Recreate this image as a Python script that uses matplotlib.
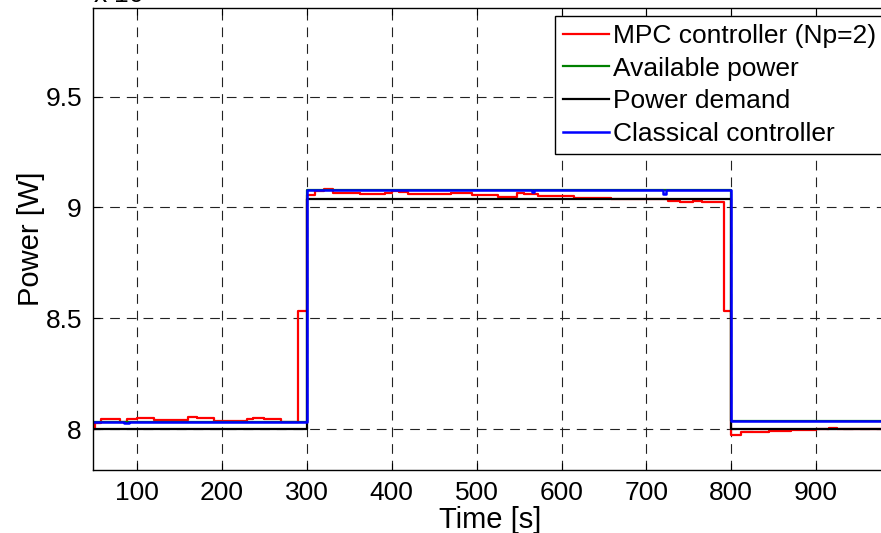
import matplotlib
matplotlib.use("Agg")
import matplotlib.pyplot as plt

plt.rcParams['font.family'] = ['Liberation Sans', 'DejaVu Sans']
plt.rcParams['lines.scale_dashes'] = False

# power values in units of 1e4 W, step changes at the listed times [s]
mpc_t = [48, 50, 58, 80, 88, 100, 120, 160, 170, 190, 230, 237, 250, 270, 290,
         300, 310, 320, 331, 362, 392, 400, 409, 419, 470, 494, 525, 547, 556,
         572, 615, 658, 725, 740, 755, 765, 791, 800, 812, 845, 870, 900, 915,
         925, 1000]
mpc_p = [8.0, 8.028, 8.045, 8.03, 8.045, 8.051, 8.04, 8.055, 8.048, 8.037,
         8.045, 8.051, 8.045, 8.033, 8.533, 9.054, 9.073, 9.084, 9.066, 9.061,
         9.066, 9.076, 9.068, 9.059, 9.066, 9.055, 9.046, 9.066, 9.059, 9.05,
         9.044, 9.038, 9.028, 9.024, 9.027, 9.024, 8.533, 7.975, 7.985, 7.99,
         7.995, 8.0, 8.003, 8.0, 8.0]

# available power is hidden under the classical controller trace
avail_t = [48, 300, 800, 1000]
avail_p = [8.033, 9.077, 8.035, 8.035]

demand_t = [48, 300, 800, 1000]
demand_p = [8.0, 9.036, 8.0, 8.0]

classic_t = [48, 85, 90, 300, 565, 568, 719, 723, 800, 1000]
classic_p = [8.033, 8.028, 8.033, 9.077, 9.068, 9.077, 9.059, 9.077, 8.035, 8.035]

xticks = [100, 200, 300, 400, 500, 600, 700, 800, 900]
yticks = [8, 8.5, 9, 9.5]
ytick_labels = ['8', '8.5', '9', '9.5']

fig = plt.figure(figsize=(8.81, 5.33), dpi=100)
ax_w = 901 - 93
ax_h = 470 - 8
ax = fig.add_axes([93 / 881, 1 - 470 / 533, ax_w / 881, ax_h / 533])

ax.plot(mpc_t, mpc_p, color='#ff0000', lw=1.6, drawstyle='steps-post', label='MPC controller (Np=2)')
ax.plot(avail_t, avail_p, color='#008000', lw=1.6, drawstyle='steps-post', label='Available power')
ax.plot(demand_t, demand_p, color='black', lw=1.6, drawstyle='steps-post', label='Power demand')
ax.plot(classic_t, classic_p, color='#0000ff', lw=1.8, drawstyle='steps-post', label='Classical controller')

ax.set_xlim(48, 1000)
ax.set_ylim(7.815, 9.9)
ax.set_xticks(xticks)
ax.set_yticks(yticks)
ax.set_yticklabels(ytick_labels)
ax.tick_params(direction='in', length=5, width=0.8, top=True, right=True,
               labelsize=19, pad=8)
ax.grid(True, color='#222222', lw=0.8, linestyle=(0, (7, 5)))
for s in ax.spines.values():
    s.set_linewidth(1.0)

ax.set_xlabel('Time [s]', fontsize=21)
ax.xaxis.set_label_coords((490 - 93) / ax_w, -(506 - 470) / ax_h)
ax.set_ylabel('Power [W]', fontsize=21)
ax.yaxis.set_label_coords(-(93 - 45) / ax_w, 0.5)

ax.text(0, 1 + 5 / ax_h, 'x 10$^4$', transform=ax.transAxes, fontsize=19,
        va='baseline', ha='left')

leg = ax.legend(loc='upper left', bbox_to_anchor=(555 / 881, 1 - 16 / 533),
                bbox_transform=fig.transFigure, borderaxespad=0, fontsize=19,
                fancybox=False, framealpha=1, edgecolor='black',
                handlelength=1.75, handletextpad=0.15, labelspacing=0.33,
                borderpad=0.3)
leg.get_frame().set_linewidth(1.0)

fig.savefig('out.png', dpi=100)
